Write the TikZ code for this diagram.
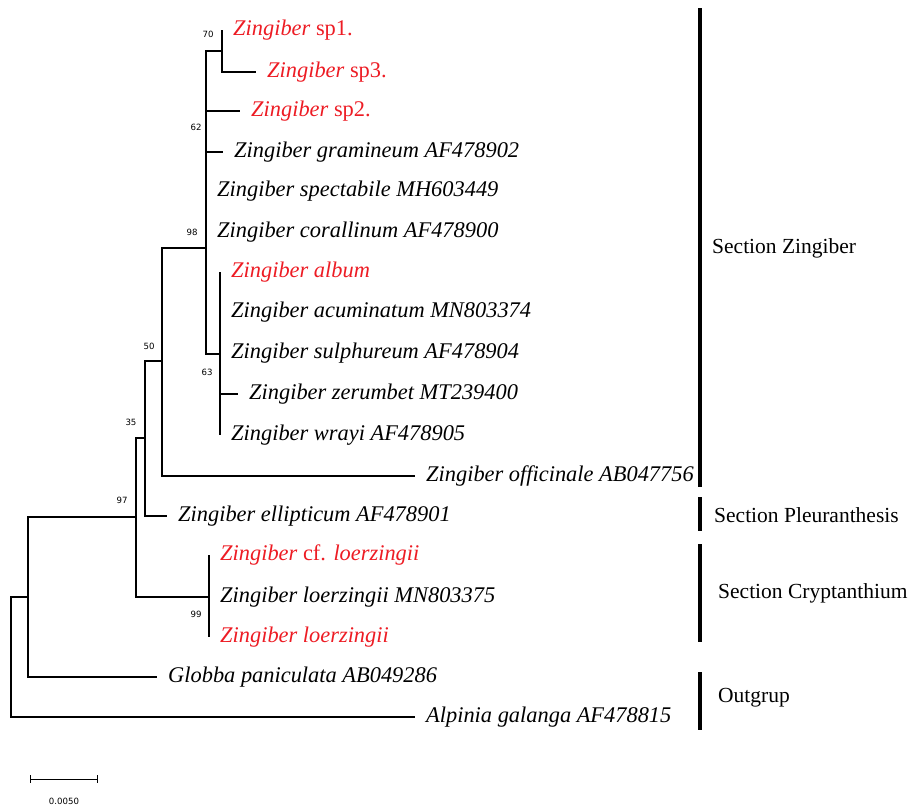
\documentclass[tikz,border=0pt]{standalone}
\usepackage{fontspec}
\setmainfont{Liberation Serif}
\newfontfamily\bootfont{DejaVu Sans}
\usetikzlibrary{positioning}
\definecolor{tred}{RGB}{237,28,36}

\begin{document}
\begin{tikzpicture}[x=1pt, y=-1pt,
  br/.style={line width=2.7pt, line join=miter},
  taxon/.style={anchor=west, inner sep=0pt, xshift=11pt,
                font=\fontsize{22.4}{26}\selectfont\itshape},
  newsp/.style={taxon, text=tred},
  boot/.style={font=\bootfont\fontsize{8.6}{10}\selectfont, inner sep=0pt},
  bar/.style={line width=4.5pt},
  sect/.style={anchor=west, inner sep=0pt, font=\fontsize{21.5}{25}\selectfont}
]
\useasboundingbox (0,0) rectangle (915,809);

% internal nodes
\coordinate (n70)  at (222,51);
\coordinate (n62)  at (206,132);
\coordinate (n98)  at (206,248);
\coordinate (n63)  at (220,354);
\coordinate (n50)  at (162,361);
\coordinate (n35)  at (145,438);
\coordinate (n97)  at (136,517);
\coordinate (n99)  at (209,597);
\coordinate (nglo) at (28,597);
\coordinate (root) at (11,657);

% leaf tips
\coordinate (t-sp1) at (222,30);
\coordinate (t-sp3) at (256,72);
\coordinate (t-sp2) at (240,111);
\coordinate (t-gra) at (223,152);
\coordinate (t-spe) at (206,191);
\coordinate (t-cor) at (206,232);
\coordinate (t-alb) at (220,272);
\coordinate (t-acu) at (220,312);
\coordinate (t-sul) at (220,353);
\coordinate (t-zer) at (238,394);
\coordinate (t-wra) at (220,435);
\coordinate (t-off) at (415,476);
\coordinate (t-ell) at (167,516);
\coordinate (t-cfl) at (209,555);
\coordinate (t-lmn) at (209,597);
\coordinate (t-loe) at (209,637);
\coordinate (t-glo) at (157,677);
\coordinate (t-alp) at (415,717);

% taxa
\node[newsp] (sp1) at (t-sp1) {Zingiber \textup{sp1.}};
\node[newsp] (sp3) at (t-sp3) {Zingiber \textup{sp3.}};
\node[newsp] (sp2) at (t-sp2) {Zingiber \textup{sp2.}};
\node[taxon] (gra) at (t-gra) {Zingiber gramineum AF478902};
\node[taxon] (spe) at (t-spe) {Zingiber spectabile MH603449};
\node[taxon] (cor) at (t-cor) {Zingiber corallinum AF478900};
\node[newsp] (alb) at (t-alb) {Zingiber album};
\node[taxon] (acu) at (t-acu) {Zingiber acuminatum MN803374};
\node[taxon] (sul) at (t-sul) {Zingiber sulphureum AF478904};
\node[taxon] (zer) at (t-zer) {Zingiber zerumbet MT239400};
\node[taxon] (wra) at (t-wra) {Zingiber wrayi AF478905};
\node[taxon] (off) at (t-off) {Zingiber officinale AB047756};
\node[taxon] (ell) at (t-ell) {Zingiber ellipticum AF478901};
\node[newsp] (cfl) at (t-cfl) {Zingiber \textup{cf.} loerzingii};
\node[taxon] (lmn) at (t-lmn) {Zingiber loerzingii MN803375};
\node[newsp] (loe) at (t-loe) {Zingiber loerzingii};
\node[taxon] (glo) at (t-glo) {Globba paniculata AB049286};
\node[taxon] (alp) at (t-alp) {Alpinia galanga AF478815};

% branches
\draw[br] (n70) |- (t-sp1);
\draw[br] (n70) |- (t-sp3);
\draw[br] (n62) |- (n70);
\draw[br] (n62) |- (t-sp2);
\draw[br] (n62) |- (t-gra);
\draw[br] (n98) |- (n62);
\draw[br] (n98) |- (t-spe);
\draw[br] (n98) |- (n63);
\draw[br] (n63) |- (t-alb);
\draw[br] (n63) |- (t-zer);
\draw[br] (n63) |- (t-wra);
\draw[br] (n50) |- (n98);
\draw[br] (n50) |- (t-off);
\draw[br] (n35) |- (n50);
\draw[br] (n35) |- (t-ell);
\draw[br] (n97) |- (n35);
\draw[br] (n97) |- (n99);
\draw[br] (n99) |- (t-cfl);
\draw[br] (n99) |- (t-loe);
\draw[br] (nglo) |- (n97);
\draw[br] (nglo) |- (t-glo);
\draw[br] (root) |- (nglo);
\draw[br] (root) |- (t-alp);

% bootstrap values
\node[boot, xshift=-14pt, yshift=17pt] (b70) at (n70) {70};
\node[boot, xshift=-10pt, yshift=5pt]  (b62) at (n62) {62};
\node[boot, xshift=-14pt, yshift=16pt] (b98) at (n98) {98};
\node[boot, xshift=-13pt, yshift=-18pt] (b63) at (n63) {63};
\node[boot, xshift=-13pt, yshift=15pt] (b50) at (n50) {50};
\node[boot, xshift=-14pt, yshift=16pt] (b35) at (n35) {35};
\node[boot, xshift=-14pt, yshift=17pt] (b97) at (n97) {97};
\node[boot, xshift=-13pt, yshift=-17pt] (b99) at (n99) {99};

% sections
\draw[bar] (700,8) -- (700,487);
\draw[bar] (700,497) -- (700,531);
\draw[bar] (700,544) -- (700,642);
\draw[bar] (700,672) -- (700,730);
\node[sect] (s-zin) at (712,248) {Section Zingiber};
\node[sect] (s-ple) at (714,515) {Section Pleuranthesis};
\node[sect] (s-cry) at (718,593) {Section Cryptanthium};
\node[sect] (s-out) at (718,698) {Outgrup};

% scale bar
\draw[line width=1pt] (30,779) -- (97,779);
\draw[line width=1pt] (30,775) -- (30,783);
\draw[line width=1pt] (97,775) -- (97,783);
\node[boot] (scale) at (64,801) {0.0050};
\end{tikzpicture}
\end{document}
